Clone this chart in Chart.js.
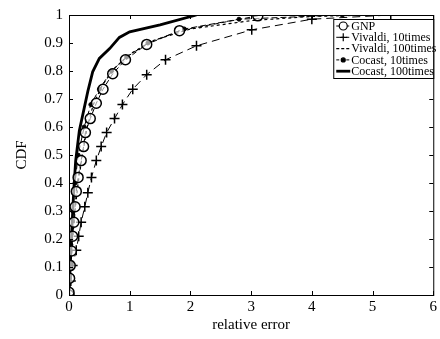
<!DOCTYPE html>
<html>
<head>
<meta charset="utf-8">
<script src="https://cdn.jsdelivr.net/npm/chart.js@4/dist/chart.umd.min.js"></script>
<style>
html,body{margin:0;padding:0;background:#fff;}
#wrap{width:440px;height:339px;}
</style>
</head>
<body>
<div id="wrap"><canvas id="c" width="440" height="339"></canvas></div>
<script>
// ---- data ----
const xTicks = [0,1,2,3,4,5,6];
const yTicks = [0,0.1,0.2,0.3,0.4,0.5,0.6,0.7,0.8,0.9,1];
const seriesNames = ["GNP","Vivaldi, 10times","Vivaldi, 100times","Cocast, 10times","Cocast, 100times"];

const gnpX = [0,0,0.01,0.02,0.04,0.06,0.08,0.1,0.12,0.15,0.2,0.24,0.27,0.35,0.45,0.56,0.72,0.93,1.28,1.82,3.11];
const gnpY = [0,0.01,0.06,0.105,0.157,0.21,0.26,0.315,0.37,0.42,0.48,0.53,0.58,0.63,0.685,0.735,0.79,0.84,0.895,0.944,0.997];

const viv10X = [0,0.03,0.06,0.12,0.16,0.2,0.26,0.31,0.37,0.45,0.53,0.62,0.75,0.88,1.05,1.28,1.59,2.1,3.01,4.0,5.3];
const viv10Y = [0,0.05,0.105,0.16,0.21,0.26,0.315,0.365,0.42,0.48,0.53,0.58,0.63,0.68,0.735,0.787,0.84,0.89,0.947,0.985,1.0];

const viv100X = [0,0.03,0.06,0.1,0.15,0.22,0.3,0.4,0.55,0.75,1.0,1.4,2.0,3.0,4.0,5.0];
const viv100Y = [0,0.1,0.2,0.3,0.4,0.5,0.6,0.68,0.75,0.81,0.86,0.91,0.95,0.98,0.995,1.0];

const coc10X = [0,0,0.01,0.03,0.06,0.1,0.15,0.25,0.36,0.5,0.7,0.95,1.3,1.9,2.8,4.5];
const coc10Y = [0,0.06,0.12,0.18,0.3,0.4,0.5,0.6,0.68,0.735,0.8,0.85,0.9,0.95,0.985,1.0];

const coc100X = [0,0.02,0.05,0.08,0.11,0.17,0.23,0.31,0.39,0.5,0.67,0.83,1.0,1.5,2.1];
const coc100Y = [0,0.1,0.25,0.38,0.48,0.587,0.647,0.727,0.797,0.845,0.88,0.92,0.94,0.965,1.0];

function pts(xs, ys){ return xs.map((x,i)=>({x:x,y:ys[i]})); }

const FONT = "'Liberation Serif', 'DejaVu Serif', serif";

const datasets = [
  {label:seriesNames[0], data:pts(gnpX,gnpY), borderColor:'#000', borderWidth:1, borderDash:[5,3],
   pointStyle:'circle', pointRadius:5, pointBackgroundColor:'rgba(255,255,255,0.6)', pointBorderColor:'#000', pointBorderWidth:1.5},
  {label:seriesNames[1], data:pts(viv10X,viv10Y), borderColor:'#000', borderWidth:1, borderDash:[8,5],
   pointStyle:'cross', pointRadius:5, pointBorderColor:'#000', pointBorderWidth:1.5},
  {label:seriesNames[2], data:pts(viv100X,viv100Y), borderColor:'#000', borderWidth:1.2, borderDash:[3,3],
   pointRadius:0},
  {label:seriesNames[3], data:pts(coc10X,coc10Y), borderColor:'#000', borderWidth:1, borderDash:[6,3],
   pointStyle:'circle', pointRadius:2, pointBackgroundColor:'#000', pointBorderColor:'#000'},
  {label:seriesNames[4], data:pts(coc100X,coc100Y), borderColor:'#000', borderWidth:2.8,
   pointRadius:0}
];

const framePlugin = {
  id:'frame',
  afterDraw(chart){
    const ctx = chart.ctx, a = chart.chartArea;
    const xs = chart.scales.x, ys = chart.scales.y;
    ctx.save();
    ctx.strokeStyle = '#000';
    ctx.lineWidth = 1;
    ctx.strokeRect(a.left+0.5, a.top+0.5, a.right-a.left, a.bottom-a.top);
    ctx.beginPath();
    xTicks.forEach(v=>{
      const p = Math.round(xs.getPixelForValue(v))+0.5;
      ctx.moveTo(p,a.bottom); ctx.lineTo(p,a.bottom-4);
      ctx.moveTo(p,a.top); ctx.lineTo(p,a.top+4);
    });
    yTicks.forEach(v=>{
      const p = Math.round(ys.getPixelForValue(v))+0.5;
      ctx.moveTo(a.left,p); ctx.lineTo(a.left+4,p);
      ctx.moveTo(a.right,p); ctx.lineTo(a.right-4,p);
    });
    ctx.stroke();

    // legend box
    const lw = 100, lh = 59;
    const lx = a.right - lw, ly = a.top + 4;
    ctx.fillStyle = '#fff';
    ctx.fillRect(lx, ly, lw, lh);
    ctx.strokeRect(lx+0.5, ly+0.5, lw, lh);
    ctx.font = "12px " + FONT;
    ctx.textBaseline = 'middle';
    ctx.fillStyle = '#000';
    chart.data.datasets.forEach((ds,i)=>{
      const cy = ly + 7 + i*11.3;
      const x0 = lx + 3, x1 = lx + 17;
      ctx.save();
      ctx.lineWidth = ds.borderWidth;
      ctx.setLineDash(ds.borderDash ? [3,2] : []);
      ctx.beginPath(); ctx.moveTo(x0,cy); ctx.lineTo(x1,cy); ctx.stroke();
      ctx.restore();
      const mx = (x0+x1)/2;
      if (ds.pointRadius > 0) {
        ctx.save();
        ctx.strokeStyle = '#000';
        ctx.fillStyle = ds.pointStyle==='circle' && ds.pointRadius<3 ? '#000' : '#fff';
        ctx.lineWidth = 1.2;
        ctx.beginPath();
        if (ds.pointStyle==='circle') { ctx.arc(mx,cy,Math.min(ds.pointRadius,4),0,Math.PI*2); ctx.fill(); ctx.stroke(); }
        else { ctx.moveTo(mx-4,cy); ctx.lineTo(mx+4,cy); ctx.moveTo(mx,cy-4); ctx.lineTo(mx,cy+4); ctx.stroke(); }
        ctx.restore();
      }
      ctx.fillStyle = '#000';
      ctx.fillText(ds.label, x1 + 1, cy + 0.5);
    });
    ctx.restore();
  }
};

new Chart(document.getElementById('c'), {
  type:'line',
  data:{datasets:datasets},
  options:{
    responsive:false,
    animation:false,
    devicePixelRatio:1,
    layout:{padding:{top:9,right:6,left:0,bottom:0}},
    plugins:{legend:{display:false}, tooltip:{enabled:false}},
    scales:{
      x:{type:'linear', min:0, max:6,
        afterBuildTicks(s){ s.ticks = xTicks.map(v=>({value:v})); },
        afterFit(s){ s.height = 44; },
        grid:{display:false, drawTicks:false},
        border:{display:false},
        ticks:{color:'#000', font:{family:FONT, size:15}, padding:3, maxRotation:0},
        title:{display:true, text:'relative error', color:'#000', font:{family:FONT, size:15}, padding:{top:0,bottom:5}}
      },
      y:{type:'linear', min:0, max:1,
        afterBuildTicks(s){ s.ticks = yTicks.map(v=>({value:v})); },
        afterFit(s){ s.width = 69; },
        grid:{display:false, drawTicks:false},
        border:{display:false},
        ticks:{color:'#000', font:{family:FONT, size:15}, padding:6, callback:(v)=>String(Math.round(v*10)/10)},
        title:{display:true, text:'CDF', color:'#000', font:{family:FONT, size:15}, padding:{top:13,bottom:0}}
      }
    }
  },
  plugins:[framePlugin]
});
</script>
</body>
</html>
